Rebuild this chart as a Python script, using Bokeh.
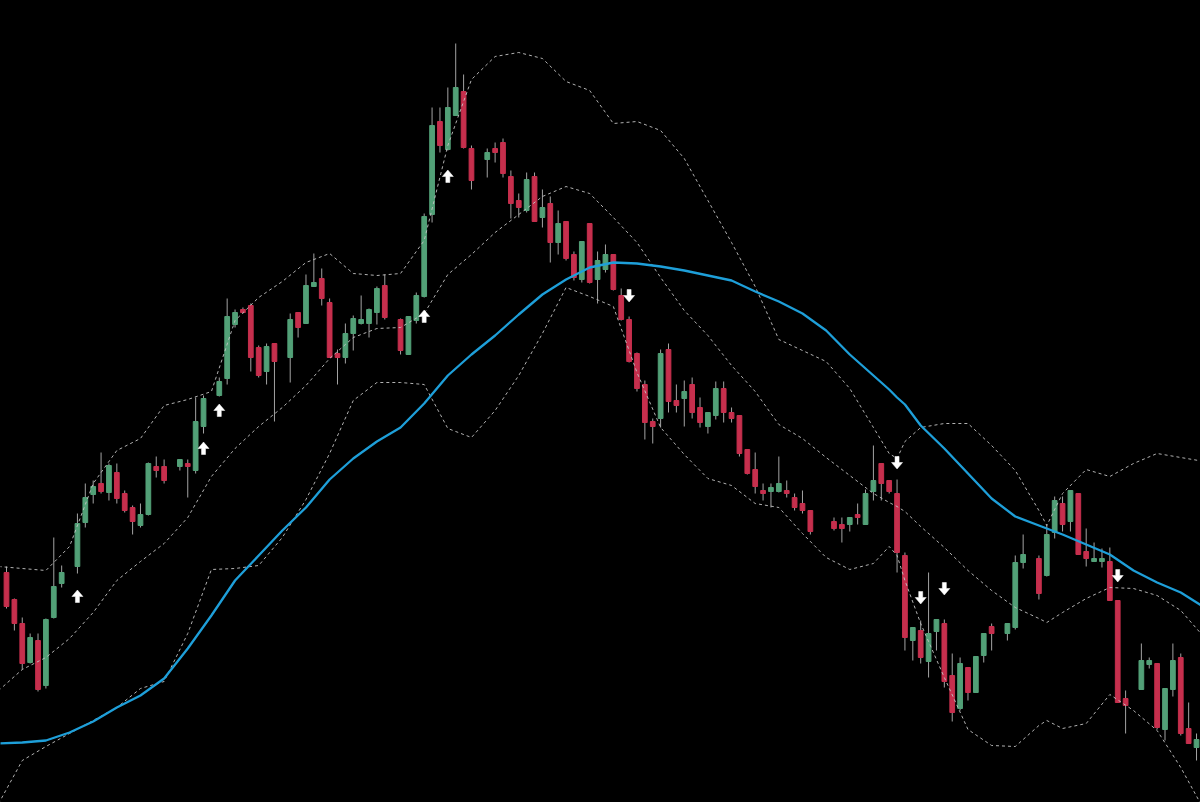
from bokeh.plotting import figure
from bokeh.models import ColumnDataSource, Range1d
from bokeh.embed import file_html
from bokeh.resources import INLINE

# ---- data (price levels) ----
gaps = [8, 21, 26, 35, 49, 60, 103, 104, 126, 130, 143]
bar = [k for k in range(152) if k not in gaps]

open_ = [230, 203, 179, 140, 162, 117, 185, 219,
         236, 280, 308, 319, 310, 330, 309, 295, 277, 288, 336, 336,
         336, 339, 332, 376,
         407, 424, 478, 493, 497, 455, 431, 459,
         445, 490, 479, 516, 524, 500, 449, 445, 469, 479, 479, 490, 517,
         483, 448, 482, 506, 588, 681, 653, 687, 711, 654,
         643, 654, 660, 626, 602, 592, 626, 585, 599, 560, 581, 548, 523, 579, 523, 533, 548, 507,
         483, 449, 418, 381, 384, 453, 402, 404, 418, 395, 376, 387, 414, 390, 387, 353, 333, 312,
         311, 311, 312, 305, 299, 292,
         281, 278, 278, 288, 278, 311, 339, 322, 309, 247, 162, 172, 141, 171, 179, 127, 94, 135,
         110, 147, 176,
         169, 175, 240,
         244, 227, 270, 299, 281, 309, 251, 241, 241, 241, 202, 104,
         113, 138, 139, 73, 113, 145, 74, 55]
high = [236, 204, 185, 169, 169, 184, 265, 237,
        289, 319, 322, 350, 339, 339, 312, 297, 299, 340, 346, 343,
        343, 343, 405, 407,
        425, 504, 493, 495, 499, 457, 459, 459,
        489, 490, 528, 549, 534, 504, 453, 479, 487, 507, 494, 516, 528,
        484, 486, 510, 589, 695, 695, 715, 759, 728, 657,
        654, 660, 664, 632, 609, 630, 630, 613, 606, 592, 581, 551, 561, 579, 551, 558, 548, 514,
        486, 450, 422, 384, 453, 459, 418, 422, 425, 405, 390, 421, 421, 395, 387, 353, 350, 319,
        319, 346, 322, 309, 312, 292,
        285, 285, 285, 299, 313, 357, 339, 322, 323, 250, 175, 182, 230, 183, 183, 149, 145, 135,
        146, 169, 179,
        179, 247, 268,
        247, 278, 306, 306, 312, 309, 274, 260, 254, 255, 202, 112,
        159, 145, 139, 114, 159, 149, 100, 69]
low = [194, 172, 133, 139, 111, 114, 184, 215,
       229, 275, 299, 309, 302, 299, 290, 268, 275, 287, 325, 319,
       332, 305, 329, 369,
       406, 418, 475, 489, 431, 425, 418, 381,
       420, 465, 479, 516, 497, 445, 418, 439, 452, 478, 465, 478, 483,
       448, 448, 479, 505, 580, 650, 652, 687, 654, 613,
       625, 640, 625, 584, 585, 590, 581, 575, 540, 548, 542, 522, 520, 519, 499, 530, 512, 482,
       440, 411, 363, 359, 375, 390, 390, 376, 384, 375, 369, 383, 380, 380, 346, 328, 309, 302,
       295, 310, 305, 292, 289, 268,
       272, 260, 271, 278, 278, 302, 302, 309, 230, 152, 142, 139, 125, 152, 115, 81, 92, 102,
       110, 140, 152,
       162, 173, 234,
       203, 226, 264, 271, 271, 248, 236, 241, 235, 202, 100, 69,
       113, 134, 73, 62, 106, 67, 59, 42]
close = [196, 179, 139, 165, 113, 183, 216, 230,
         279, 305, 316, 311, 337, 304, 292, 281, 288, 339, 332, 322,
         343, 336, 381, 404,
         421, 486, 490, 490, 445, 427, 456, 441,
         483, 475, 517, 520, 504, 445, 445, 469, 484, 483, 493, 514, 485,
         452, 486, 507, 586, 677, 657, 695, 715, 655, 622,
         650, 650, 629, 599, 595, 623, 581, 595, 560, 579, 544, 525, 561, 520, 542, 548, 513, 483,
         441, 414, 380, 376, 449, 401, 397, 411, 390, 380, 390, 414, 390, 384, 349, 329, 316, 309,
         315, 319, 309, 295, 292, 271,
         274, 274, 285, 285, 309, 322, 319, 311, 250, 165, 175, 145, 169, 183, 121, 90, 139, 110,
         146, 169, 169,
         179, 240, 248,
         209, 268, 302, 278, 312, 248, 244, 244, 244, 202, 100, 97,
         142, 142, 75, 114, 142, 69, 59, 63]

# Bollinger bands and moving average, read at these bar positions
band_bar = [-1, 2, 5, 8, 11, 14, 17, 20, 23, 26, 29, 32, 35, 38, 41, 44, 47, 50, 53, 56,
            59, 62, 65, 68, 71, 74, 77, 80, 83, 86, 89, 92, 95, 98, 101, 104, 107, 110,
            112, 113, 114, 116, 119, 122, 125, 128, 131, 132, 134, 137, 140, 143, 146, 149, 152]
upper = [236, 234, 232, 256, 319, 352, 364, 397, 403, 411, 482, 505, 521, 540, 549, 529, 527, 529,
         562, 657, 723, 746, 750, 744, 721, 712, 679, 681, 672, 644, 602, 560, 516, 463, 452, 441,
         414, 375, 349, 344, 361, 375, 379, 379, 357, 332, 292, 277, 309, 333, 326, 339, 349, 345, 341]
middle = [112, 133, 145, 164, 190, 222, 241, 259, 285, 326, 354, 376, 395, 417, 444, 465, 474, 475,
          489, 528, 548, 570, 588, 606, 616, 609, 585, 560, 525, 492, 467, 437, 411, 378, 364, 345,
          327, 309, 300, 296, 291, 276, 255, 232, 212, 195, 184, 180, 190, 204, 215, 214, 207, 192, 165]
lower = [-1, 42, 56, 69, 82, 95, 114, 121, 169, 233, 234, 237, 265, 303, 349, 402, 420, 420,
         418, 374, 365, 392, 427, 469, 515, 506, 496, 430, 375, 348, 324, 317, 299, 295, 269, 245,
         233, 239, 256, 247, 222, 179, 125, 73, 57, 56, 77, 82, 74, 79, 108, 92, 72, 35, -8]
ma = [59, 60, 62, 70, 81, 95, 107, 124, 154, 187, 222, 247, 272, 295, 323, 344, 361, 375,
      399, 427, 448, 467, 488, 508, 523, 535, 540, 539, 536, 532, 527, 522, 511, 501, 489, 472,
      448, 427, 413, 405, 398, 377, 354, 329, 304, 286, 277, 274, 268, 258, 248, 232, 220, 210, 195]

# signal arrows
up_bar = [9, 25, 27, 53, 56]
up_level = [206, 354, 392, 486, 626]
dn_bar = [79, 113, 116, 119, 141]
dn_level = [507, 340, 205, 214, 227]

assert len(open_) == len(high) == len(low) == len(close) == len(bar)
assert len(upper) == len(middle) == len(lower) == len(ma) == len(band_bar)

# ---- styling ----
W, H = 1200, 802
SLOT = 7.881          # pixel width of one bar slot
X0 = 6.0              # pixel position of bar 0
UP_COL = "#52a077"
DN_COL = "#c62f4d"

p = figure(width=W, height=H,
           x_range=Range1d(-X0 / SLOT, (W - X0) / SLOT),
           y_range=Range1d(0, 802),
           output_backend="svg", toolbar_location=None,
           x_axis_location=None, y_axis_location=None,
           min_border=0, min_border_left=0, min_border_right=0,
           min_border_top=0, min_border_bottom=0,
           background_fill_color="black", border_fill_color="black",
           outline_line_color=None)
p.grid.visible = False

colors = [UP_COL if c >= o else DN_COL for o, c in zip(open_, close)]
src = ColumnDataSource(dict(
    x=bar, o=open_, h=high, l=low, c=close,
    top=[max(o, c) for o, c in zip(open_, close)],
    bot=[min(o, c) for o, c in zip(open_, close)],
    col=colors))

p.segment(x0="x", y0="l", x1="x", y1="h", source=src, line_color="#a3a3a3", line_width=1)
p.vbar(x="x", width=0.6, top="top", bottom="bot", source=src,
       fill_color="col", line_color="col", line_width=1)

band_style = dict(line_color="#c4c4c4", line_width=1, line_dash="3 3", line_alpha=0.9)
p.line(band_bar, upper, **band_style)
p.line(band_bar, middle, **band_style)
p.line(band_bar, lower, **band_style)

p.line(band_bar, ma, line_color="#1e9fd9", line_width=2.3, line_join="round")

# arrows as small polygons around each signal level
shape = [(-5.5, 0), (0, 6.5), (5.5, 0), (2, 0), (2, -6), (-2, -6), (-2, 0)]
xs, ys = [], []
for k, lv in zip(up_bar, up_level):
    xs.append([k + dx / SLOT for dx, dy in shape])
    ys.append([lv + dy for dx, dy in shape])
for k, lv in zip(dn_bar, dn_level):
    xs.append([k + dx / SLOT for dx, dy in shape])
    ys.append([lv - dy for dx, dy in shape])
p.patches(xs, ys, fill_color="white", line_color="white", line_width=0.5)

html = file_html(p, INLINE, "chart")
html = html.replace("</head>",
                    "<style>html,body{margin:0;padding:0;background:#000;overflow:hidden;}</style></head>", 1)
open("out.html", "w").write(html)
